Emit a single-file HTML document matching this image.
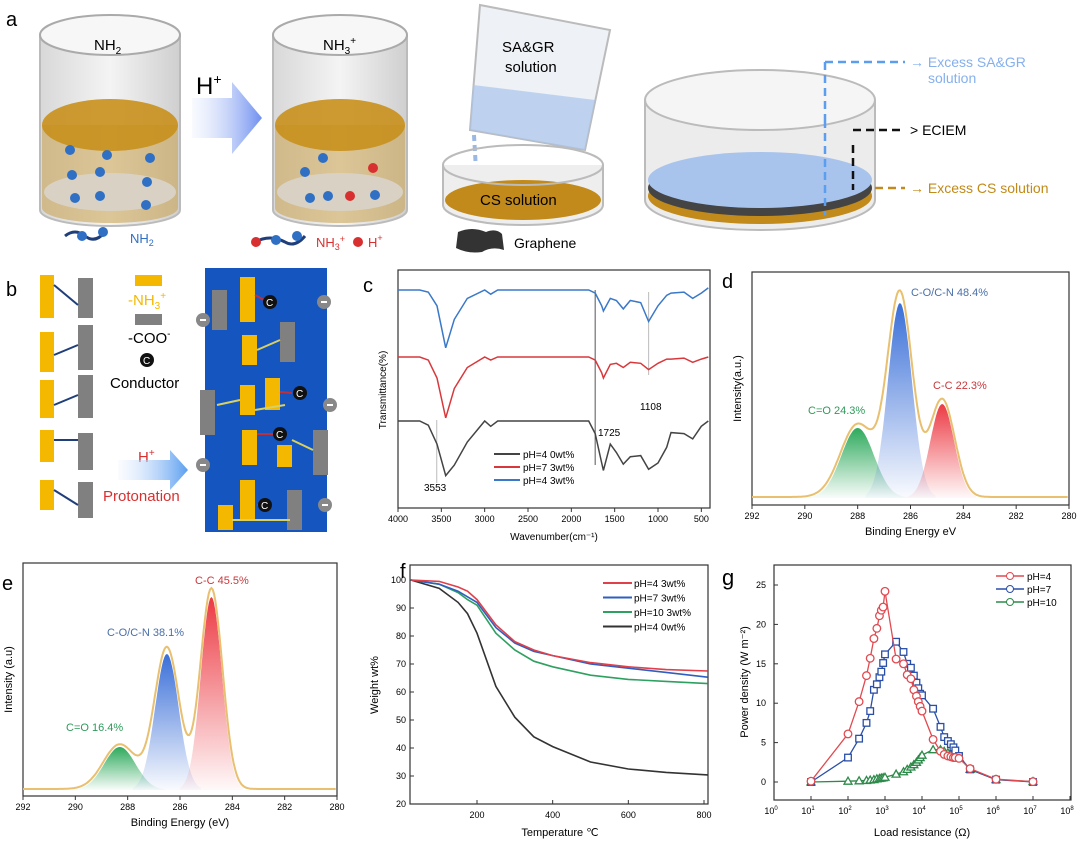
<!DOCTYPE html>
<html><head><meta charset="utf-8"><style>
html,body{margin:0;padding:0;background:#fff}
svg{display:block;font-family:"Liberation Sans",Arial,sans-serif}
</style></head><body>
<svg id="fig" width="1080" height="844" viewBox="0 0 1080 844" xmlns="http://www.w3.org/2000/svg">
<defs>
<linearGradient id="arrowG" x1="0" x2="1"><stop offset="0" stop-color="#e8eefc" stop-opacity="0.3"/><stop offset="1" stop-color="#6f8ff0"/></linearGradient>
<linearGradient id="arrowB" x1="0" x2="1"><stop offset="0" stop-color="#eef4fe" stop-opacity="0.3"/><stop offset="1" stop-color="#5b9ef0"/></linearGradient>
<linearGradient id="gG" x1="0" y1="0" x2="0" y2="1"><stop offset="0" stop-color="#2eaa5c"/><stop offset="1" stop-color="#2eaa5c" stop-opacity="0.03"/></linearGradient>
<linearGradient id="gB" x1="0" y1="0" x2="0" y2="1"><stop offset="0" stop-color="#3a6fd8"/><stop offset="1" stop-color="#3a6fd8" stop-opacity="0.03"/></linearGradient>
<linearGradient id="gR" x1="0" y1="0" x2="0" y2="1"><stop offset="0" stop-color="#ec3b44"/><stop offset="1" stop-color="#ec3b44" stop-opacity="0.03"/></linearGradient>
<linearGradient id="glass" x1="0" x2="1"><stop offset="0" stop-color="#d8d8d8"/><stop offset="0.5" stop-color="#f4f4f4"/><stop offset="1" stop-color="#cfcfcf"/></linearGradient>
</defs>

<!-- ===== Panel a ===== -->
<g>
<text x="6" y="26" font-size="20">a</text>
<g>
<path d="M40 35 L40 210 A70 16 0 0 0 180 210 L180 35" fill="url(#glass)" stroke="#bbb" stroke-width="2"/>
<path d="M42 125 L42 208 A68 15 0 0 0 178 208 L178 125 Z" fill="#c9a04a" opacity="0.55"/>
<ellipse cx="110" cy="125" rx="68" ry="26" fill="#c8901c" opacity="0.9"/>
<ellipse cx="110" cy="192" rx="66" ry="19" fill="#d9d2c4"/>
<ellipse cx="110" cy="35" rx="70" ry="20" fill="#f7f7f7" stroke="#aaa" stroke-width="2"/>
<text x="94" y="50" font-size="15">NH<tspan font-size="10" dy="4">2</tspan></text>
<g fill="#2f6fc4"><circle cx="72" cy="175" r="5"/><circle cx="100" cy="172" r="5"/><circle cx="147" cy="182" r="5"/><circle cx="70" cy="150" r="5"/><circle cx="107" cy="155" r="5"/><circle cx="150" cy="158" r="5"/><circle cx="75" cy="198" r="5"/><circle cx="100" cy="196" r="5"/><circle cx="146" cy="205" r="5"/></g>
</g>
<polygon points="192,98 232,98 232,82 262,118 232,154 232,138 192,138" fill="url(#arrowG)"/>
<text x="196" y="94" font-size="24">H<tspan font-size="14" dy="-10">+</tspan></text>
<g>
<path d="M273 35 L273 210 A67 16 0 0 0 407 210 L407 35" fill="url(#glass)" stroke="#bbb" stroke-width="2"/>
<path d="M275 125 L275 208 A65 15 0 0 0 405 208 L405 125 Z" fill="#c9a04a" opacity="0.55"/>
<ellipse cx="340" cy="125" rx="65" ry="26" fill="#c8901c" opacity="0.9"/>
<ellipse cx="340" cy="192" rx="63" ry="19" fill="#d9d2c4"/>
<ellipse cx="340" cy="35" rx="67" ry="20" fill="#f7f7f7" stroke="#aaa" stroke-width="2"/>
<text x="323" y="50" font-size="15">NH<tspan font-size="10" dy="4">3</tspan><tspan font-size="10" dy="-10">+</tspan></text>
<g fill="#2f6fc4"><circle cx="305" cy="172" r="5"/><circle cx="323" cy="158" r="5"/><circle cx="375" cy="195" r="5"/><circle cx="310" cy="198" r="5"/><circle cx="328" cy="196" r="5"/></g>
<g fill="#d83030"><circle cx="350" cy="196" r="5"/><circle cx="373" cy="168" r="5"/></g>
</g>
<g>
<polygon points="480,5 610,30 585,150 470,130" fill="#eef1f5" stroke="#bbb" stroke-width="2"/>
<polygon points="473,85 595,100 585,150 470,130" fill="#a9c4ec" opacity="0.7"/>
<text x="502" y="52" font-size="15">SA&amp;GR</text>
<text x="505" y="72" font-size="15">solution</text>
<line x1="474" y1="135" x2="476" y2="170" stroke="#9bb7e4" stroke-width="4" stroke-dasharray="6 4"/>
</g>
<g>
<path d="M443 165 L443 205 A80 20 0 0 0 603 205 L603 165" fill="#eee" stroke="#bbb" stroke-width="2"/>
<ellipse cx="523" cy="200" rx="78" ry="20" fill="#c18a1a"/>
<ellipse cx="523" cy="165" rx="80" ry="20" fill="none" stroke="#bbb" stroke-width="2"/>
<text x="480" y="205" font-size="15">CS solution</text>
</g>
<g>
<path d="M645 100 L645 200 A115 30 0 0 0 875 200 L875 100" fill="#ececec" stroke="#bbb" stroke-width="2"/>
<ellipse cx="760" cy="196" rx="112" ry="28" fill="#c18a1a"/>
<ellipse cx="760" cy="188" rx="112" ry="28" fill="#444"/>
<ellipse cx="760" cy="180" rx="112" ry="28" fill="#a9c4ec"/>
<ellipse cx="760" cy="100" rx="115" ry="30" fill="#f5f5f5" stroke="#bbb" stroke-width="2"/>
</g>
<line x1="825" y1="120" x2="825" y2="215" stroke="#5b9ef0" stroke-width="2.5" stroke-dasharray="8 5"/>
<line x1="825" y1="62" x2="905" y2="62" stroke="#5b9ef0" stroke-width="2.5" stroke-dasharray="8 5"/>
<line x1="825" y1="62" x2="825" y2="120" stroke="#5b9ef0" stroke-width="2.5" stroke-dasharray="8 5"/>
<text x="910" y="67" font-size="14" fill="#86b0ec">→ Excess SA&amp;GR</text>
<text x="928" y="83" font-size="14" fill="#86b0ec">solution</text>
<line x1="853" y1="130" x2="905" y2="130" stroke="#111" stroke-width="2.5" stroke-dasharray="8 5"/>
<line x1="853" y1="145" x2="853" y2="190" stroke="#111" stroke-width="2.5" stroke-dasharray="8 5"/>
<text x="910" y="135" font-size="14">&gt;  ECIEM</text>
<line x1="875" y1="188" x2="905" y2="188" stroke="#c18a1a" stroke-width="2.5" stroke-dasharray="8 5"/>
<text x="910" y="193" font-size="14" fill="#c18a1a">→ Excess CS solution</text>
<g>
<path d="M65 236 q10 -8 20 0 q10 8 20 -4" stroke="#1f3e7a" stroke-width="3" fill="none"/>
<circle cx="82" cy="236" r="5" fill="#2f6fc4"/><circle cx="103" cy="232" r="5" fill="#2f6fc4"/>
<text x="130" y="243" font-size="13" fill="#2f6fc4">NH<tspan font-size="9" dy="3">2</tspan></text>
<path d="M255 242 q15 -8 30 0 q10 6 20 -6" stroke="#1f3e7a" stroke-width="3" fill="none"/>
<circle cx="256" cy="242" r="5" fill="#d83030"/><circle cx="276" cy="240" r="5" fill="#2f6fc4"/><circle cx="297" cy="236" r="5" fill="#2f6fc4"/>
<text x="316" y="247" font-size="13" fill="#d83030">NH<tspan font-size="9" dy="3">3</tspan><tspan font-size="9" dy="-8">+</tspan></text>
<circle cx="358" cy="242" r="5" fill="#d83030"/>
<text x="368" y="247" font-size="13" fill="#d83030">H<tspan font-size="9" dy="-6">+</tspan></text>
<path d="M458 232 q14 -6 28 0 q10 -4 16 2 l2 16 q-12 -4 -22 2 q-14 2 -26 -4 z" fill="#333"/>
<text x="514" y="248" font-size="14">Graphene</text>
</g>
</g>

<!-- ===== Panel b ===== -->
<g>
<text x="6" y="296" font-size="20">b</text>
<g id="bLeft"></g>
<rect x="135" y="275" width="27" height="11" fill="#f5b800"/>
<text x="128" y="305" font-size="15" fill="#f5b800">-NH<tspan font-size="10" dy="4">3</tspan><tspan font-size="10" dy="-10">+</tspan></text>
<rect x="135" y="314" width="27" height="11" fill="#808080"/>
<text x="128" y="343" font-size="15">-COO<tspan font-size="10" dy="-6">-</tspan></text>
<circle cx="147" cy="360" r="7" fill="#111"/><text x="143" y="364" font-size="10" fill="#fff">C</text>
<text x="110" y="388" font-size="15">Conductor</text>
<text x="138" y="462" font-size="15" fill="#d83030">H<tspan font-size="10" dy="-6">+</tspan></text>
<polygon points="118,460 170,460 170,450 188,470 170,490 170,480 118,480" fill="url(#arrowB)"/>
<text x="103" y="501" font-size="15" fill="#d83030">Protonation</text>
<rect x="205" y="268" width="122" height="264" fill="#1455c0"/>
<g id="bRight"></g>
</g>

<g id="pc"></g>
<g id="pd"></g>
<g id="pe"></g>
<g id="pf"></g>
<g id="pg"></g>
</svg>
<script>
// ---------- Panel c data (FTIR, arbitrary transmittance offsets) ----------
const ftirWn = [4000,3750,3650,3550,3450,3350,3200,3000,2930,2850,1800,1725,1650,1630,1550,1480,1400,1320,1200,1108,1000,900,850,700,600,500,420];
const ftirBlue  = [100,100,98,85,45,72,92,100,96,100,100,97,85,80,92,90,82,90,88,70,85,95,97,98,92,97,102];
const ftirRed   = [100,100,97,80,42,70,90,100,97,100,100,97,85,80,93,94,90,95,94,88,94,98,98,99,95,98,100];
const ftirBlack = [100,100,96,78,48,58,80,100,95,100,100,88,60,53,78,70,59,66,67,54,60,75,89,88,83,95,100];
const ftirLabels = ["pH=4 0wt%","pH=7 3wt%","pH=4 3wt%"];
const ftirTicks = [4000,3500,3000,2500,2000,1500,1000,500];
// ---------- Panel d/e XPS peak parameters ----------
const xpsDCenters = [288.0,286.4,284.8];
const xpsDHeights = [70,195,94];
const xpsDSigmas  = [0.62,0.45,0.45];
const xpsECenters = [288.3,286.5,284.8];
const xpsEHeights = [43,136,193];
const xpsESigmas  = [0.6,0.45,0.4];
const xpsTicks = [292,290,288,286,284,282,280];
// ---------- Panel f TGA ----------
const tgaT = [25,100,150,175,200,250,300,350,400,500,600,700,810];
const tga4  = [100,99.5,97.5,96,93,84,78,75,73,70.5,69,68,67.5];
const tga7  = [100,98.5,96,94,92,83,77.5,74.5,73,70,68.5,67,65.3];
const tga10 = [100,98.5,95.5,93,91,81,75,71,69,66,64.5,63.8,63];
const tga0  = [100,97,92,88,81,62,51,44,40.5,35,32.5,31.3,30.4];
const tgaYTicks = [20,30,40,50,60,70,80,90,100];
const tgaXTicks = [200,400,600,800];
// ---------- Panel g power density ----------
const logR = [1,2,2.3,2.5,2.6,2.7,2.78,2.85,2.9,2.95,3,3.3,3.5,3.6,3.7,3.78,3.85,3.9,3.95,4,4.3,4.5,4.6,4.7,4.78,4.85,4.9,5,5.3,6,7];
const pd4  = [0.1,6.1,10.2,13.5,15.7,18.2,19.5,21.1,21.8,22.2,24.2,15.6,15.0,13.6,13.1,11.7,10.9,10.2,9.6,9.0,5.4,3.9,3.5,3.3,3.2,3.1,3.1,3.0,1.7,0.35,0.05];
const pd7  = [0,3.1,5.5,7.5,9,11.7,12.4,13.3,14,15.1,16.2,17.8,16.5,15,14.5,13.5,12.6,11.9,11.2,11,9.3,7,5.7,5.2,4.8,4.4,4,3.3,1.6,0.3,0];
const pd10 = [0,0.1,0.15,0.2,0.25,0.3,0.4,0.45,0.5,0.55,0.6,1,1.3,1.6,1.9,2.2,2.5,2.8,3.1,3.4,4.1,4.1,3.9,3.7,3.5,3.3,3.2,3.1,1.6,0.3,0.05];
const gYTicks = [0,5,10,15,20,25];
const gXExp = [0,1,2,3,4,5,6,7,8];

const NS="http://www.w3.org/2000/svg";
function mk(parent,tag,attrs,text){const e=document.createElementNS(NS,tag);for(const k in attrs)e.setAttribute(k,attrs[k]);if(text!==undefined)e.textContent=text;parent.appendChild(e);return e;}
function lin(d0,d1,r0,r1){return v=>r0+(v-d0)*(r1-r0)/(d1-d0);}
function pathOf(xs,ys,fx,fy){return xs.map((x,i)=>(i?"L":"M")+fx(x).toFixed(1)+" "+fy(ys[i]).toFixed(1)).join(" ");}

// ---- Panel b shapes ----
(function(){
 const L=document.getElementById('bLeft');
 const rows=[[275,318,278,318,285,305],[332,372,325,370,355,345],[380,418,375,418,405,395],[430,462,433,470,440,440],[480,510,482,518,490,505]];
 rows.forEach((r,i)=>{
  const y=mk(L,'rect',{x:40,y:r[0],width:14,height:r[1]-r[0],fill:'#f5b800'});
  
  
  const g=mk(L,'rect',{x:78,y:r[2],width:15,height:r[3]-r[2],fill:'#808080'});
  
  
  mk(L,'line',{x1:54,y1:r[4],x2:78,y2:r[5],stroke:'#1f3e7a','stroke-width':2});
 });
 const R=document.getElementById('bRight');
 [[240,277,15,45],[242,335,15,30],[240,385,15,30],[265,378,15,32],[242,430,15,35],[277,445,15,22],[240,480,15,40],[218,505,15,25]].forEach(b=>mk(R,'rect',{x:b[0],y:b[1],width:b[2],height:b[3],fill:'#f5b800'}));
 [[212,290,15,40],[280,322,15,40],[200,390,15,45],[313,430,15,45],[287,490,15,40]].forEach(b=>mk(R,'rect',{x:b[0],y:b[1],width:b[2],height:b[3],fill:'#808080'}));
 [[257,350,280,340],[217,405,240,400],[255,410,285,405],[292,440,313,450],[232,520,290,520]].forEach(l=>mk(R,'line',{x1:l[0],y1:l[1],x2:l[2],y2:l[3],stroke:'#d8d060','stroke-width':2}));
 [[255,295,264,300],[280,392,292,393],[257,434,274,434],[257,505,260,505]].forEach(l=>mk(R,'line',{x1:l[0],y1:l[1],x2:l[2],y2:l[3],stroke:'#c0303a','stroke-width':2}));
 [[270,302],[300,393],[280,434],[265,505]].forEach(c=>{mk(R,'circle',{cx:c[0],cy:c[1],r:7,fill:'#111'});mk(R,'text',{x:c[0]-4,y:c[1]+4,'font-size':10,fill:'#fff'},'C');});
 [[324,302],[203,320],[330,405],[203,465],[325,505]].forEach(c=>{mk(R,'circle',{cx:c[0],cy:c[1],r:7,fill:'#888'});mk(R,'rect',{x:c[0]-3,y:c[1]-1,width:6,height:2,fill:'#fff'});});
})();

function axesBox(g,x0,y0,x1,y1){mk(g,'rect',{x:x0,y:y0,width:x1-x0,height:y1-y0,fill:'none',stroke:'#333','stroke-width':1.2});}

// ---- Panel c ----
(function(){
 const g=document.getElementById('pc');
 const X0=398,X1=710,Y0=270,Y1=508;
 const fx=lin(4000,400,X0,X1);
 mk(g,'text',{x:363,y:292,'font-size':20},'c');
 axesBox(g,X0,Y0,X1,Y1);
 ftirTicks.forEach(t=>{mk(g,'line',{x1:fx(t),y1:Y1,x2:fx(t),y2:Y1+4,stroke:'#333'});mk(g,'text',{x:fx(t),y:Y1+14,'font-size':9,'text-anchor':'middle'},t);});
 mk(g,'text',{x:554,y:540,'font-size':10,'text-anchor':'middle'},'Wavenumber(cm⁻¹)');
 mk(g,'text',{x:0,y:0,'font-size':10,'text-anchor':'middle',transform:'translate(386,390) rotate(-90)'},'Transmittance(%)');
 [[3553,420,483],[1725,290,465],[1108,292,375]].forEach(v=>mk(g,'line',{x1:fx(v[0]),y1:v[1],x2:fx(v[0]),y2:v[2],stroke:v[0]===1725?'#555':'#bbb','stroke-width':1}));
 mk(g,'text',{x:424,y:491,'font-size':10},'3553');
 mk(g,'text',{x:598,y:436,'font-size':10},'1725');
 mk(g,'text',{x:640,y:410,'font-size':10},'1108');
 const series=[[ftirBlue,'#3a78c8',290],[ftirRed,'#d8383c',357],[ftirBlack,'#444',421]];
 series.forEach(s=>{const fy=v=>s[2]+(100-v)*1.05;const p=mk(g,'path',{d:pathOf(ftirWn,s[0],fx,fy),fill:'none',stroke:s[1],'stroke-width':1.5});});
 [['#444',0],['#d8383c',1],['#3a78c8',2]].forEach((l,i)=>{const y=454+i*13;mk(g,'line',{x1:494,y1:y,x2:520,y2:y,stroke:l[0],'stroke-width':2});mk(g,'text',{x:523,y:y+4,'font-size':10},ftirLabels[l[1]]);});
})();

// ---- XPS helper ----
function xps(g,X0,X1,Y0,Y1,base,centers,heights,sigmas,xlabel,ylabel,ylx,labels){
 const fx=lin(292,280,X0,X1);
 axesBox(g,X0,Y0,X1,Y1);
 xpsTicks.forEach(t=>{mk(g,'line',{x1:fx(t),y1:Y1,x2:fx(t),y2:Y1+4,stroke:'#333'});mk(g,'text',{x:fx(t),y:Y1+14,'font-size':9,'text-anchor':'middle'},t);});
 mk(g,'text',{x:(X0+X1)/2,y:Y1+30,'font-size':11,'text-anchor':'middle'},xlabel);
 mk(g,'text',{x:0,y:0,'font-size':11,'text-anchor':'middle',transform:`translate(${ylx},${(Y0+Y1)/2}) rotate(-90)`},ylabel);
 const grads=['url(#gG)','url(#gB)','url(#gR)'];
 const es=[];for(let e=292;e>=280;e-=0.05)es.push(+e.toFixed(2));
 centers.forEach((c,i)=>{
   const xs=es.filter(e=>Math.abs(e-c)<3*sigmas[i]);
   const d=pathOf(xs,xs.map(e=>heights[i]*Math.exp(-((e-c)**2)/(2*sigmas[i]**2))),fx,v=>base-v)+` L${fx(xs[xs.length-1])} ${base} L${fx(xs[0])} ${base} Z`;
   const p=mk(g,'path',{d:d,fill:grads[i]});
   
   
 });
 const env=es.map(e=>1+centers.reduce((s,c,i)=>s+heights[i]*Math.exp(-((e-c)**2)/(2*(sigmas[i]*1.05)**2))*1.04,0));
 const p=mk(g,'path',{d:pathOf(es,env,fx,v=>base-v),fill:'none',stroke:'#e8c070','stroke-width':2});
 
 
 labels.forEach(l=>mk(g,'text',{x:l[0],y:l[1],'font-size':11,fill:l[3]},l[2]));
}
(function(){
 const g=document.getElementById('pd');
 mk(g,'text',{x:722,y:288,'font-size':20},'d');
 xps(g,752,1069,272,505,498,xpsDCenters,xpsDHeights,xpsDSigmas,'Binding Energy  eV','Intensity(a.u.)',741,
  [[911,296,'C-O/C-N 48.4%','#4a6fa8'],[933,389,'C-C 22.3%','#c8383c'],[808,414,'C=O 24.3%','#2e9a5a']]);
})();
(function(){
 const g=document.getElementById('pe');
 mk(g,'text',{x:2,y:590,'font-size':20},'e');
 xps(g,23,337,563,796,790,xpsECenters,xpsEHeights,xpsESigmas,'Binding Energy (eV)','Intensity (a.u)',12,
  [[195,584,'C-C 45.5%','#c8383c'],[107,636,'C-O/C-N 38.1%','#4a6fa8'],[66,731,'C=O 16.4%','#2e9a5a']]);
})();

// ---- Panel f ----
(function(){
 const g=document.getElementById('pf');
 const X0=410,X1=708,Y0=565,Y1=804;
 const fx=lin(200,800,477,704), fy=lin(20,100,804,580);
 mk(g,'text',{x:400,y:578,'font-size':20},'f');
 axesBox(g,X0,Y0,X1,Y1);
 tgaYTicks.forEach(t=>{mk(g,'line',{x1:X0,y1:fy(t),x2:X0+4,y2:fy(t),stroke:'#333'});mk(g,'text',{x:X0-4,y:fy(t)+3,'font-size':9,'text-anchor':'end'},t);});
 tgaXTicks.forEach(t=>{mk(g,'line',{x1:fx(t),y1:Y1,x2:fx(t),y2:Y1-4,stroke:'#333'});mk(g,'text',{x:fx(t),y:Y1+14,'font-size':9,'text-anchor':'middle'},t);});
 mk(g,'text',{x:560,y:836,'font-size':11,'text-anchor':'middle'},'Temperature ℃');
 mk(g,'text',{x:0,y:0,'font-size':11,'text-anchor':'middle',transform:'translate(378,685) rotate(-90)'},'Weight wt%');
 const ss=[[tga0,'#333'],[tga10,'#2ea060'],[tga7,'#2f5fc0'],[tga4,'#e0404a']];
 ss.forEach(s=>{const p=mk(g,'path',{d:pathOf(tgaT,s[0],fx,fy),fill:'none',stroke:s[1],'stroke-width':1.6});});
 [['pH=4 3wt%','#e0404a'],['pH=7 3wt%','#2f5fc0'],['pH=10 3wt%','#2ea060'],['pH=4 0wt%','#333']].forEach((l,i)=>{const y=583+i*14.5;mk(g,'line',{x1:603,y1:y,x2:632,y2:y,stroke:l[1],'stroke-width':2});mk(g,'text',{x:634,y:y+4,'font-size':10},l[0]);});
})();

// ---- Panel g ----
(function(){
 const g=document.getElementById('pg');
 const X0=774,X1=1071,Y0=565,Y1=800;
 const fx=lin(0,8,774,1070), fy=lin(0,25,782,585);
 mk(g,'text',{x:722,y:585,'font-size':22},'g');
 axesBox(g,X0,Y0,X1,Y1);
 gYTicks.forEach(t=>{mk(g,'line',{x1:X0,y1:fy(t),x2:X0+4,y2:fy(t),stroke:'#333'});mk(g,'text',{x:X0-8,y:fy(t)+3,'font-size':9,'text-anchor':'end'},t);});
 gXExp.forEach(t=>{mk(g,'line',{x1:fx(t),y1:Y1,x2:fx(t),y2:Y1-4,stroke:'#333'});const tx=mk(g,'text',{x:fx(t)-3,y:Y1+14,'font-size':9,'text-anchor':'middle'},'10');mk(tx,'tspan',{dy:-4,'font-size':6},t);});
 mk(g,'text',{x:922,y:836,'font-size':11,'text-anchor':'middle'},'Load resistance (Ω)');
 mk(g,'text',{x:0,y:0,'font-size':11,'text-anchor':'middle',transform:'translate(748,682) rotate(-90)'},'Power density (W m⁻²)');
 const ss=[[pd10,'#2e8a4a','tri'],[pd7,'#2a4fa8','sq'],[pd4,'#e04a50','circ']];
 ss.forEach(s=>{
  const p=mk(g,'path',{d:pathOf(logR,s[0],fx,fy),fill:'none',stroke:s[1],'stroke-width':1.3});
  
  
  logR.forEach((x,i)=>{const cx=fx(x),cy=fy(s[0][i]);let m;
   if(s[2]==='circ')m=mk(g,'circle',{cx:cx,cy:cy,r:3.8,fill:'#fff',stroke:s[1],'stroke-width':1.3});
   else if(s[2]==='sq')m=mk(g,'rect',{x:cx-3.3,y:cy-3.3,width:6.6,height:6.6,fill:'#fff',stroke:s[1],'stroke-width':1.3});
   else m=mk(g,'polygon',{points:`${cx},${cy-4} ${cx+4},${cy+3} ${cx-4},${cy+3}`,fill:'#fff',stroke:s[1],'stroke-width':1.3});
   
   });
 });
 [['pH=4','#e04a50'],['pH=7','#2a4fa8'],['pH=10','#2e8a4a']].forEach((l,i)=>{const y=576+i*13;mk(g,'line',{x1:996,y1:y,x2:1024,y2:y,stroke:l[1],'stroke-width':1.5});mk(g,'circle',{cx:1010,cy:y,r:3.5,fill:'#fff',stroke:l[1]});mk(g,'text',{x:1027,y:y+4,'font-size':10},l[0]);});
})();
</script>
</body></html>
